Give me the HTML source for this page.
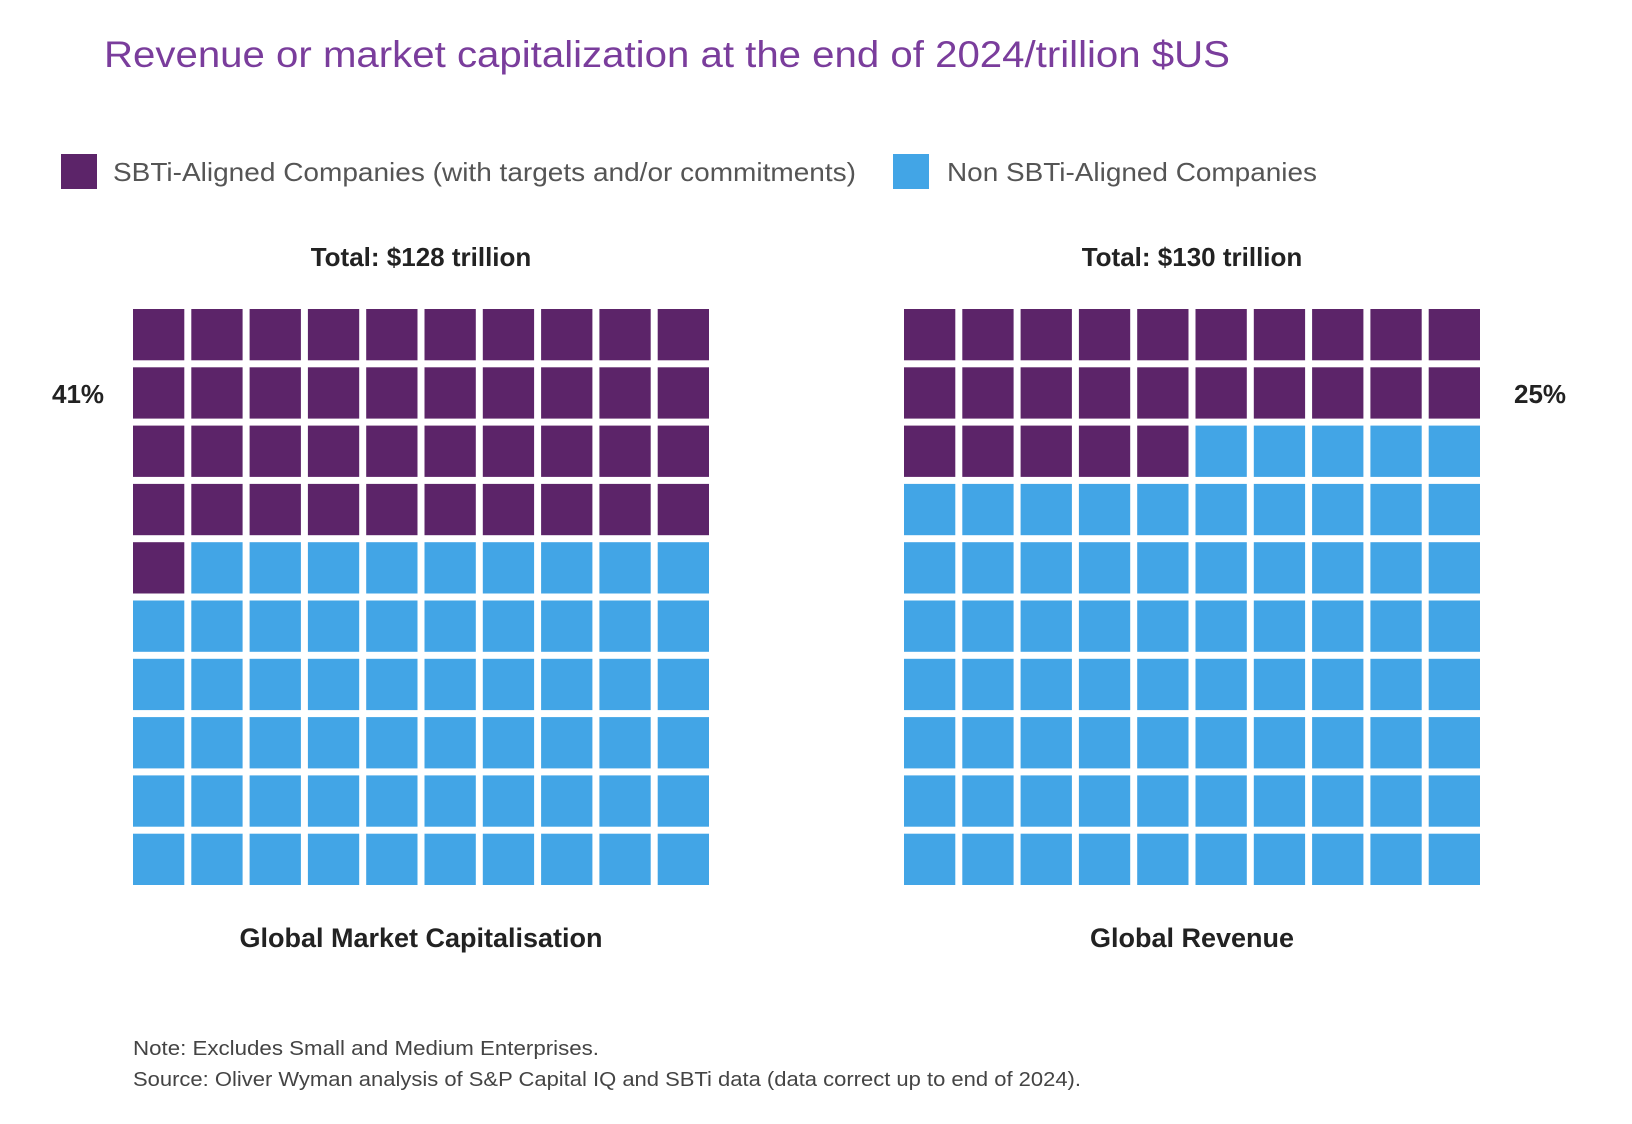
<!DOCTYPE html>
<html><head><meta charset="utf-8"><style>
html,body{margin:0;padding:0;background:#fff;}
svg{display:block;font-family:"Liberation Sans",sans-serif;}
</style></head><body>
<svg id="chart" width="1632" height="1124" viewBox="0 0 1632 1124">
<text x="104" y="67" font-size="37" fill="#7a3d9c" textLength="1126" lengthAdjust="spacingAndGlyphs">Revenue or market capitalization at the end of 2024/trillion $US</text>
<g>
<rect x="61" y="154" width="36" height="35" fill="#5c2469"/>
<text x="113" y="181" font-size="26" fill="#555" textLength="743" lengthAdjust="spacingAndGlyphs">SBTi-Aligned Companies (with targets and/or commitments)</text>
<rect x="893" y="154" width="36" height="35" fill="#42a5e6"/>
<text x="947" y="181" font-size="26" fill="#555" textLength="370" lengthAdjust="spacingAndGlyphs">Non SBTi-Aligned Companies</text>
</g>
<g id="grids"></g>
<text x="133" y="1055" font-size="20" fill="#444" textLength="466" lengthAdjust="spacingAndGlyphs">Note: Excludes Small and Medium Enterprises.</text>
<text x="133" y="1086" font-size="20" fill="#444" textLength="948" lengthAdjust="spacingAndGlyphs">Source: Oliver Wyman analysis of S&amp;P Capital IQ and SBTi data (data correct up to end of 2024).</text>
</svg>
<script>
const panels = ["Global Market Capitalisation", "Global Revenue"];
const totals = ["Total: $128 trillion", "Total: $130 trillion"];
const sbtiPercent = [41, 25];
const percentLabels = ["41%", "25%"];

const NS = "http://www.w3.org/2000/svg";
const g = document.getElementById('grids');
const gridLeft = [133, 904];
const top0 = 309, pitch = 58.3, cell = 51.3;
function mk(tag, attrs){const e=document.createElementNS(NS,tag);for(const k in attrs)e.setAttribute(k,attrs[k]);return e;}
panels.forEach((name, p) => {
  const grp = mk('g', {});
  
  
  g.appendChild(grp);
  const cx = gridLeft[p] + (pitch*10 - (pitch-cell))/2;
  const t = mk('text', {x: cx, y: 266, 'font-size': 26, 'font-weight': 'bold', fill: '#222', 'text-anchor': 'middle'});
  t.textContent = totals[p];
  
  
  grp.appendChild(t);
  for (let i = 0; i < 100; i++) {
    const r = Math.floor(i/10), c = i%10;
    const rect = mk('rect', {x: gridLeft[p] + c*pitch, y: top0 + r*pitch, width: cell, height: cell,
      fill: i < sbtiPercent[p] ? '#5c2469' : '#42a5e6'});
    
    
    grp.appendChild(rect);
  }
  const pl = mk('text', {x: p === 0 ? 52 : 1514, y: 403, 'font-size': 26, 'font-weight': 'bold', fill: '#222'});
  pl.textContent = percentLabels[p];
  
  
  grp.appendChild(pl);
  const lab = mk('text', {x: cx, y: 947, 'font-size': 27, 'font-weight': 'bold', fill: '#222', 'text-anchor': 'middle'});
  lab.textContent = name;
  
  
  grp.appendChild(lab);
});
</script>
</body></html>
